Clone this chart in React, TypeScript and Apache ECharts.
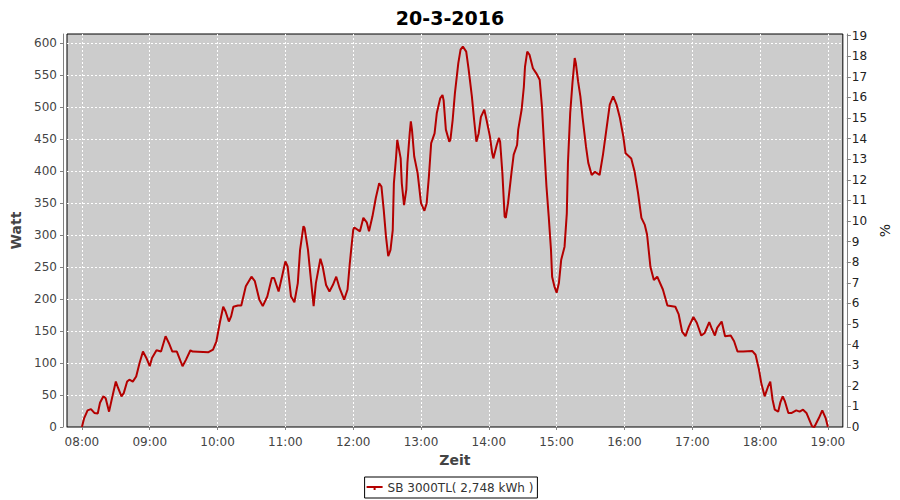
import React, { useEffect, useRef } from "react";
import * as echarts from "echarts";

const title = "20-3-2016";
const seriesName = "SB 3000TL( 2,748 kWh )";

const times: string[] = [
  "08:00","08:02","08:05","08:08","08:11","08:14","08:16","08:19","08:21","08:24","08:27","08:30","08:32","08:35","08:37","08:40","08:42","08:45","08:48","08:51","08:54","08:57",
  "09:00","09:02","09:06","09:10","09:14","09:17","09:20","09:24","09:29","09:32","09:36","09:38","09:52","09:56","09:59",
  "10:02","10:05","10:07","10:10","10:12","10:14","10:18","10:21","10:25","10:30","10:33","10:37","10:40","10:44","10:48","10:50","10:54","10:57",
  "11:00","11:02","11:05","11:08","11:11","11:13","11:16","11:17","11:20","11:22","11:25","11:27","11:31","11:33","11:36","11:39","11:42","11:45","11:48","11:52","11:55","11:57",
  "12:00","12:01","12:06","12:09","12:12","12:14","12:17","12:20","12:23","12:25","12:27","12:29","12:31","12:33","12:35","12:36","12:38","12:39","12:42","12:43","12:45","12:47","12:48","12:50","12:51","12:52","12:54","12:57",
  "13:00","13:03","13:05","13:07","13:09","13:12","13:14","13:17","13:19","13:20","13:22","13:25","13:26","13:28","13:30","13:33","13:35","13:37","13:40","13:42","13:45","13:47","13:49","13:51","13:53","13:56","13:58",
  "14:01","14:03","14:04","14:07","14:09","14:10","14:12","14:14","14:15","14:17","14:20","14:22","14:25","14:26","14:29","14:31","14:32","14:34","14:36","14:39","14:42","14:45","14:47","14:49","14:51","14:53","14:55","14:56","14:58",
  "15:00","15:02","15:04","15:07","15:09","15:10","15:12","15:14","15:16","15:17","15:19","15:21","15:23","15:26","15:28","15:31","15:34","15:38","15:41","15:44","15:47","15:50","15:53","15:56","15:59",
  "16:01","16:06","16:09","16:12","16:15","16:18","16:20","16:23","16:26","16:29","16:34","16:38","16:45","16:48","16:51","16:54","16:57",
  "17:01","17:04","17:08","17:11","17:15","17:17","17:20","17:22","17:26","17:29","17:34","17:37","17:40","17:45","17:53","17:56","17:59",
  "18:01","18:04","18:07","18:09","18:11","18:13","18:16","18:18","18:20","18:22","18:25","18:28","18:32","18:35","18:38","18:41","18:46","18:48","18:52","18:55","18:58",
  "19:00"
];

const watts: number[] = [
  0,14,26,28,22,21,38,48,45,24,48,71,61,48,53,71,74,71,79,100,118,108,
  95,108,120,118,142,131,118,118,95,105,120,118,117,121,134,
  163,188,181,165,173,188,190,190,220,235,228,199,189,204,233,233,212,235,
  259,251,204,195,225,277,314,311,277,241,189,225,263,251,222,212,222,235,217,199,215,256,
  308,312,306,327,320,306,329,358,381,376,340,298,267,277,308,381,423,449,420,381,347,371,413,459,478,465,423,
  397,350,338,350,392,444,459,491,514,519,511,465,446,449,480,522,569,590,595,587,561,517,480,446,459,485,496,480,
  454,428,420,441,452,446,397,329,327,350,397,426,441,465,496,532,563,587,582,561,553,543,501,438,376,329,277,235,220,
  210,225,261,282,334,413,491,538,577,569,540,517,483,438,413,394,399,394,426,465,504,517,504,483,454,
  428,420,399,366,327,316,301,250,230,235,215,190,188,176,149,142,157,
  172,163,143,147,164,155,143,155,165,142,143,134,118,118,119,113,90,
  69,48,63,71,43,27,24,39,48,40,22,22,26,24,27,22,1,0,14,26,14,
  0
];

const xTicks: string[] = ["08:00","09:00","10:00","11:00","12:00","13:00","14:00","15:00","16:00","17:00","18:00","19:00"];
const wattTicks: number[] = [0,50,100,150,200,250,300,350,400,450,500,550,600];
const percentTicks: number[] = [0,1,2,3,4,5,6,7,8,9,10,11,12,13,14,15,16,17,18,19];

const toMin = (s: string) => {
  const [h, m] = s.split(":").map(Number);
  return h * 60 + m;
};
const fmt = (v: number) => {
  const h = Math.floor(v / 60);
  const m = Math.round(v - h * 60);
  return String(h).padStart(2, "0") + ":" + String(m).padStart(2, "0");
};

export default function App() {
  const ref = useRef<HTMLDivElement>(null);
  useEffect(() => {
    document.body.style.margin = "0";
    if (!ref.current) return;
    const chart = echarts.init(ref.current, undefined, { renderer: "svg" });
    const font = "DejaVu Sans";
    const data = times.map((t, i) => [toMin(t), watts[i]]);
    const xMin = toMin("08:00");
    const xMax = toMin("19:00");
    const span = xMax - xMin;
    const axisLineStyle = { color: "#808080", width: 1 };
    chart.setOption({
      animation: false,
      backgroundColor: "#ffffff",
      title: {
        text: title,
        left: "center",
        top: 3,
        textStyle: { fontFamily: font, fontSize: 19, fontWeight: "bold", color: "#000" },
      },
      legend: {
        bottom: 2,
        left: "center",
        data: [seriesName],
        icon: "path://M0,0 L16,0 L16,2 L0,2 Z M7,2 L9,2 L9,4 L7,4 Z",
        borderColor: "#000",
        borderWidth: 1,
        padding: [5, 4, 4, 2],
        itemWidth: 16,
        itemHeight: 4,
        itemGap: 5,
        textStyle: { fontFamily: font, fontSize: 12, color: "#333" },
      },
      grid: {
        left: 67,
        right: 52,
        top: 34,
        bottom: 73,
        show: true,
        backgroundColor: "#cccccc",
        borderColor: "#000",
        borderWidth: 1,
        containLabel: false,
      },
      xAxis: {
        type: "value",
        min: xMin - span * 0.02,
        max: xMax + span * 0.02,
        offset: 4,
        name: "Zeit",
        nameLocation: "middle",
        nameGap: 21,
        nameTextStyle: { fontFamily: font, fontSize: 14, fontWeight: "bold", color: "#444" },
        axisLine: { show: true, lineStyle: axisLineStyle },
        axisTick: { show: true, length: 3, lineStyle: axisLineStyle, customValues: xTicks.map(toMin) },
        axisLabel: {
          customValues: xTicks.map(toMin),
          formatter: (v: number) => fmt(v),
          fontFamily: font,
          fontSize: 12,
          color: "#444",
          margin: 5,
        },
        splitLine: { show: true, lineStyle: { color: "#ffffff", type: [2, 2], width: 1 } },
      },
      yAxis: [
        {
          type: "value",
          position: "left",
          min: 0,
          max: 614.5,
          offset: 4,
          name: "Watt",
          nameLocation: "middle",
          nameGap: 36,
          nameTextStyle: { fontFamily: font, fontSize: 14, fontWeight: "bold", color: "#444" },
          axisLine: { show: true, lineStyle: axisLineStyle },
          axisTick: { show: true, length: 3, lineStyle: axisLineStyle, customValues: wattTicks },
          axisLabel: {
            customValues: wattTicks,
            fontFamily: font,
            fontSize: 12,
            color: "#444",
            margin: 6,
          },
          splitLine: { show: true, lineStyle: { color: "#ffffff", type: [2, 2], width: 1 } },
        },
        {
          type: "value",
          position: "right",
          min: 0,
          max: 19.08,
          offset: 4,
          name: "%",
          nameLocation: "middle",
          nameGap: 23,
          nameTextStyle: { fontFamily: font, fontSize: 14, color: "#222" },
          axisLine: { show: true, lineStyle: axisLineStyle },
          axisTick: { show: true, length: 4, lineStyle: axisLineStyle, customValues: percentTicks },
          axisLabel: {
            customValues: percentTicks,
            fontFamily: font,
            fontSize: 12,
            color: "#222",
            margin: 5,
          },
          splitLine: { show: false },
        },
      ],
      series: [
        {
          name: seriesName,
          type: "line",
          yAxisIndex: 0,
          data,
          symbol: "none",
          lineStyle: { color: "#b40000", width: 2 },
          itemStyle: { color: "#b40000" },
        },
      ],
    });
    return () => chart.dispose();
  }, []);
  return <div ref={ref} style={{ width: 900, height: 500 }} />;
}
